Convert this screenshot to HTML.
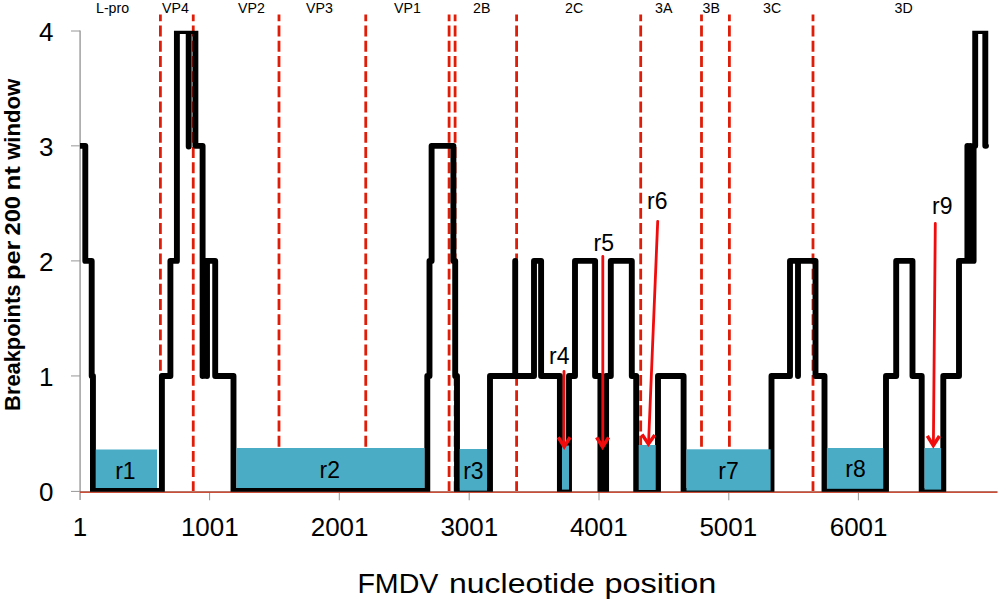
<!DOCTYPE html>
<html>
<head>
<meta charset="utf-8">
<title>FMDV breakpoints</title>
<style>
html,body{margin:0;padding:0;background:#fff;}
body{width:1000px;height:602px;overflow:hidden;font-family:"Liberation Sans",sans-serif;}
svg{display:block;}
text{font-family:"Liberation Sans",sans-serif;fill:#000;}
.d{stroke:#df1e09;stroke-width:2.8;stroke-dasharray:10.9 4.29;stroke-dashoffset:4.19;fill:none;}
.b{fill:#4bacc6;}
.k{stroke:#000;stroke-width:5.9;fill:none;stroke-linejoin:round;stroke-linecap:round;}
.a{stroke:#f00c0c;stroke-width:2.8;fill:none;stroke-linecap:round;stroke-linejoin:miter;}
.h{stroke-width:3.5;stroke-linecap:butt;}
.t{font-size:14.2px;}
.n{font-size:26px;}
.r{font-size:23px;}
</style>
</head>
<body>
<svg width="1000" height="602" viewBox="0 0 1000 602">
<defs>
<clipPath id="plot"><rect x="80" y="30.7" width="920" height="461"/></clipPath>
</defs>
<rect width="1000" height="602" fill="#fff"/>

<!-- dashed protein boundaries -->
<g class="d">
<path d="M160.4 14.6V491"/><path d="M193.25 14.6V491"/><path d="M279 14.6V491"/><path d="M365.75 14.6V491"/>
<path d="M449.1 14.6V491"/><path d="M455.1 14.6V491"/><path d="M516.6 14.6V491"/><path d="M640.7 14.6V491"/>
<path d="M701.5 14.6V491"/><path d="M729.4 14.6V491"/><path d="M813 14.6V491"/>
</g>


<!-- axes -->
<g stroke="#a6a6a6" fill="none">
<path d="M80.1 30.5V500" stroke-width="1.6"/>
<path d="M71 31H80M71 145.85H80M71 260.9H80M71 375.95H80M71 491.4H80" stroke-width="1" stroke="#969696"/>
<path d="M209.6 492V500.3M339.3 492V500.3M469.2 492V500.3M599 492V500.3M728.8 492V500.3M858.4 492V500.3" stroke-width="1" stroke="#969696"/>
</g>
<path d="M80 491.6H997.5" stroke="#a8584c" stroke-width="0.9" fill="none"/>
<path d="M80 492.45H997.5" stroke="#c8452d" stroke-width="1" fill="none"/>

<!-- black step line -->
<g clip-path="url(#plot)">
<path class="k" d="M78 145.85H85.3V260.9H91.7V375.95H92.95V491H161.9V375.95H170.4V260.9H176.9V31H188.7V146.5V31H195.4V145.85H202.6V375.95V260.9H207V375.95V260.9H215.2V375.95H233.5V491H427.3V375.95H429.5V260.9H431.6V145.85H453.4V260.9H455.2V375.95H457V491H490V375.95H515.2V260.9V375.95H534V260.9H541.1V375.95H559.9V491H569V375.95H575V260.9H595.1V375.95H600.4V491H606.1V375.95H610.8V260.9H631.8V375.95H636.2V491H658V375.95H683.6V491H771.5V375.95H790V260.9H798V375.95V260.9H815.5V375.95H824.5V491H886V375.95H896.2V260.9H912.5V375.95H921.7V491H943.3V375.95H959V260.9H967.4V145.85V260.9H970.5V145.85V260.9H973.6V145.85H975.2V31H985.3V145.85H986"/>
</g>

<!-- teal region boxes -->
<g class="b">
<rect x="95.8" y="449.5" width="61.2" height="38.5"/>
<rect x="236.5" y="448" width="188" height="40"/>
<rect x="459.7" y="449" width="27.3" height="41.7"/>
<rect x="562" y="445.5" width="7" height="44.1"/>
<rect x="638.7" y="445" width="17" height="45"/>
<rect x="686.5" y="449.3" width="84.1" height="41.3"/>
<rect x="826.9" y="448" width="56.3" height="40.8"/>
<rect x="924.5" y="448" width="16.6" height="41.6"/>
</g>

<!-- red arrows -->
<g class="a">
<path d="M564 371.5V445"/><path class="h" d="M558.3 437.2L564.2 446.6L570.1 437.2"/>
<path d="M602.8 256.5V445"/><path class="h" d="M596.6 437.3L602.6 447L608.6 437.3"/>
<path d="M657.7 221.4L648.6 442"/><path class="h" d="M642 434.4L648.4 444L654.8 435"/>
<path d="M935.3 223.5L933.4 443"/><path class="h" d="M927.3 435.9L933.3 445.4L939.4 436"/>
</g>

<!-- protein labels -->
<g class="t">
<text x="96" y="13.4">L-pro</text>
<text x="162" y="13.4">VP4</text>
<text x="238" y="13.4">VP2</text>
<text x="306" y="13.4">VP3</text>
<text x="394" y="13.4">VP1</text>
<text x="473" y="13.4">2B</text>
<text x="565" y="13.4">2C</text>
<text x="655" y="13.4">3A</text>
<text x="702.5" y="13.4">3B</text>
<text x="763" y="13.4">3C</text>
<text x="894.5" y="13.4">3D</text>
</g>

<!-- y axis numbers -->
<g class="n" text-anchor="end">
<text x="53.4" y="40.8">4</text>
<text x="53.4" y="155.8">3</text>
<text x="53.4" y="270.8">2</text>
<text x="53.4" y="385.8">1</text>
<text x="53.4" y="501.2">0</text>
</g>
<!-- x axis numbers -->
<g class="n" text-anchor="middle">
<text x="80" y="536.4">1</text>
<text x="209.8" y="536.4">1001</text>
<text x="339.6" y="536.4">2001</text>
<text x="469.3" y="536.4">3001</text>
<text x="598.8" y="536.4">4001</text>
<text x="728.3" y="536.4">5001</text>
<text x="858.6" y="536.4">6001</text>
</g>

<!-- region labels -->
<g class="r" text-anchor="middle">
<text x="125.4" y="479">r1</text>
<text x="329.8" y="477.9">r2</text>
<text x="473.4" y="478.5">r3</text>
<text x="559.2" y="364">r4</text>
<text x="603.7" y="250.5">r5</text>
<text x="657.3" y="208.7">r6</text>
<text x="728.6" y="478.6">r7</text>
<text x="855.5" y="477.3">r8</text>
<text x="942.2" y="213.5">r9</text>
</g>

<!-- axis titles -->
<g style="font-size:28.2px">
<text x="357.4" y="592.6" textLength="81" lengthAdjust="spacingAndGlyphs">FMDV</text>
<text x="449" y="592.6" textLength="145.8" lengthAdjust="spacingAndGlyphs">nucleotide</text>
<text x="604.4" y="592.6" textLength="112" lengthAdjust="spacingAndGlyphs">position</text>
</g>
<g transform="translate(20.1 409.5) rotate(-90)" style="font-size:22.6px;font-weight:bold">
<text x="-1.4" y="0" textLength="126.2" lengthAdjust="spacingAndGlyphs">Breakpoints</text>
<text x="129.5" y="0" textLength="39.5" lengthAdjust="spacingAndGlyphs">per</text>
<text x="174" y="0" textLength="39.4" lengthAdjust="spacingAndGlyphs">200</text>
<text x="218.9" y="0" textLength="24.4" lengthAdjust="spacingAndGlyphs">nt</text>
<text x="249.7" y="0" textLength="81" lengthAdjust="spacingAndGlyphs">window</text>
</g>
</svg>
</body>
</html>
